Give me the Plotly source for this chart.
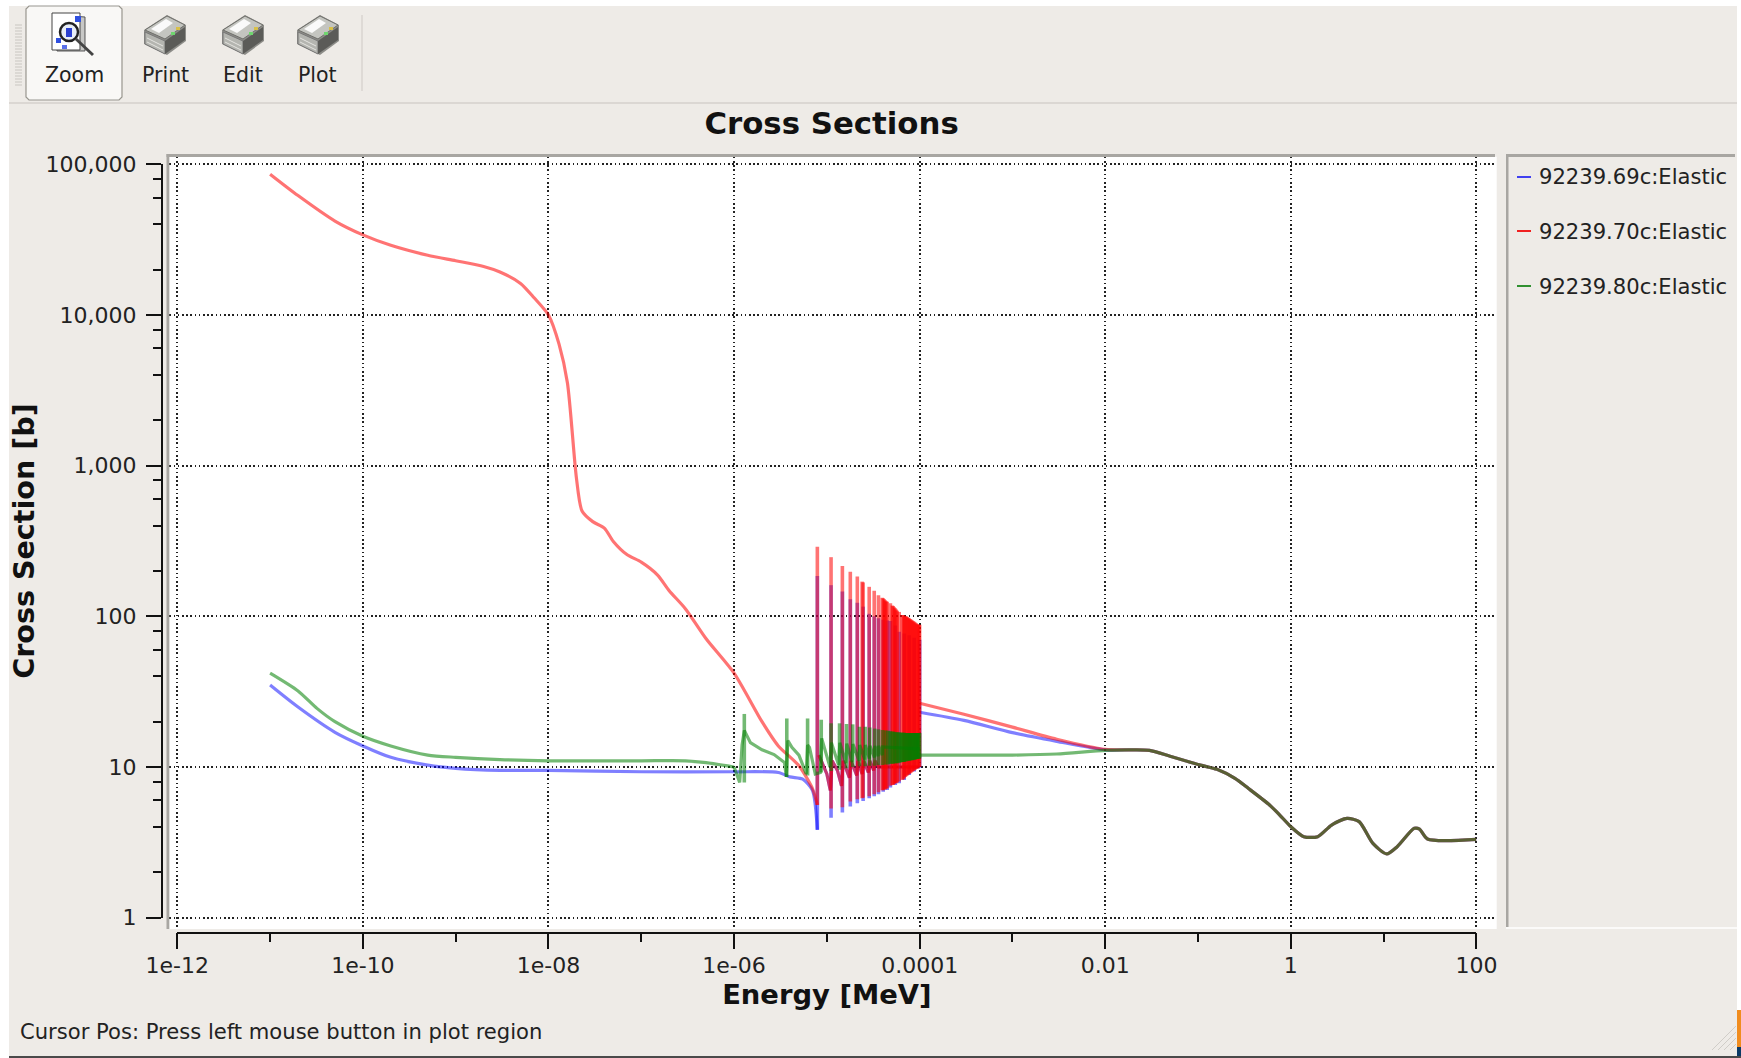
import plotly.graph_objects as go

W, H = 1741, 1058
FONT = "DejaVu Sans"
PAPER = "#eeebe7"
BORDER = "#a8a6a2"

# smooth parts of the curves (MeV, barns)
red_energy = [1e-11, 2e-11, 5e-11, 1e-10, 2e-10, 5e-10, 1e-9, 2e-9, 3e-9, 5e-9, 7e-9, 1e-8,
              1.3e-8, 1.6e-8, 2e-8, 2.3e-8, 3e-8, 4e-8, 5e-8, 7e-8, 1e-7, 1.5e-7, 2e-7, 3e-7,
              5e-7, 1e-6, 2e-6, 3e-6, 5e-6, 7e-6, 7.9e-6]
red_xs = [86000, 62000, 42000, 34000, 29000, 24900, 22900, 21000, 19300, 16200, 13000, 10000,
          6400, 3550, 830, 500, 425, 385, 314, 257, 229, 188, 148, 112,
          71, 42, 20, 13.8, 10.2, 7.2, 5.6]

blue_energy = [1e-11, 2e-11, 5e-11, 1e-10, 2e-10, 5e-10, 1e-9, 3e-9, 1e-8, 1e-7, 1e-6, 3e-6,
               4e-6, 5.5e-6, 7e-6, 7.9e-6]
blue_xs = [35, 25, 17, 13.8, 11.6, 10.3, 9.8, 9.5, 9.5, 9.3, 9.3, 9.2,
           8.6, 8.3, 7, 3.83]

# tails between the .69c/.70c resonances
base_energy = [8.2e-6, 9e-6, 10e-6, 10.9e-6, 11.4e-6, 13e-6, 14.4e-6, 15e-6, 17.5e-6, 18.2e-6,
               21e-6, 21.6e-6, 24e-6, 25e-6, 28e-6, 29e-6, 32e-6, 33e-6, 36e-6, 100e-6]
base_xs = [12, 10.5, 9, 7, 11, 9.5, 7.5, 11, 8.5, 11,
           8.8, 11, 9, 11, 9.2, 11, 9.5, 11, 10, 10]

green_low_energy = [1e-11, 2e-11, 3.2e-11, 5e-11, 1e-10, 2e-10, 5e-10, 1e-9, 3e-9, 1e-8, 1e-7, 3e-7,
                    5e-7, 1e-6]
green_low_xs = [42, 32, 24.5, 20, 16, 13.8, 12, 11.6, 11.2, 11, 11, 11,
                10.7, 10]
# sawtooth after each green resonance
green_mid_energy = [1e-6, 1.15e-6, 1.22e-6, 1.29e-6, 1.5e-6, 2e-6, 2.7e-6, 3.5e-6, 3.65e-6,
                    3.8e-6, 4.2e-6, 5e-6, 6e-6, 6.2e-6, 6.5e-6, 7.5e-6, 8.5e-6,
                    8.8e-6, 10.8e-6, 11.2e-6, 13.4e-6, 13.8e-6, 16e-6, 16.4e-6, 18.7e-6, 19.1e-6,
                    22.2e-6, 22.6e-6, 25.6e-6, 26e-6, 28.7e-6, 29.1e-6, 32.5e-6, 32.9e-6, 35.7e-6,
                    36.1e-6, 39.5e-6, 39.9e-6, 100e-6]
green_mid_xs = [10, 7.9, 14, 17.5, 14.5, 13, 12.1, 10.7, 8.6,
                15, 13.5, 12, 9, 14, 13.5, 9, 9.2,
                15.5, 10, 14.5, 10.3, 14.5, 10.6, 14.3, 10.8, 14.2,
                11, 14, 11.2, 14, 11.4, 13.8, 11.6, 13.8, 11.8,
                13.8, 12, 13.6, 13.2]

# above the resonance region
high_energy = [1e-4, 3e-4, 1e-3, 3e-3, 0.01]
high_red_xs = [26.5, 22.4, 18.4, 15.3, 13.1]
high_blue_xs = [23.1, 20.4, 16.9, 14.8, 13]
high_green_energy = [1e-4, 1e-3, 3e-3, 0.01]
high_green_xs = [12, 12, 12.2, 12.9]

# all three libraries agree above 10 keV
common_energy = [0.01, 0.02, 0.03, 0.05, 0.106, 0.16, 0.25, 0.35, 0.59, 0.76, 1, 1.38, 1.95, 2.75,
                 4.04, 5.45, 7.67, 10.8, 14, 21.4, 24.4, 29.7, 100]
common_xs = [13, 13, 12.9, 11.8, 10.3, 9.65, 8.4, 7.2, 5.6, 4.8, 4.02, 3.45, 3.45, 4.12,
             4.56, 4.34, 3.11, 2.65, 2.96, 3.92, 3.87, 3.33, 3.31]

# resonance spikes of the .70c evaluation
spike_energy = [7.9e-6, 11.1e-6, 14.7e-6, 17.9e-6, 21.3e-6, 24e-6, 24.6e-6, 28.6e-6, 32.4e-6, 36e-6,
                39.5e-6, 40.5e-6, 41.5e-6, 42.6e-6, 43.6e-6, 44.7e-6, 48.4e-6,
                50.7e-6, 51.9e-6, 53.2e-6, 54.6e-6, 55.9e-6, 57.3e-6, 60.2e-6,
                64.9e-6, 66.5e-6, 68.2e-6, 69.9e-6, 71.7e-6, 73.5e-6, 75.3e-6, 77.2e-6, 79.1e-6,
                81.1e-6, 83.1e-6, 85.2e-6, 87.4e-6, 89.5e-6, 91.8e-6, 94.1e-6, 96.4e-6, 98.9e-6, 100e-6]
red_peak = [290, 247, 216, 198, 184, 170, 168, 157, 148, 138,
            133, 132, 130, 128, 126, 125, 122,
            118, 117, 115, 113, 111, 109, 107,
            102, 102, 101, 100, 100, 99, 98, 97, 96,
            95, 94, 93, 92, 91, 90, 89, 88, 88, 88]
red_dip = [5.6, 5.3, 5.4, 5.9, 6.1, 6.2, 6.25, 6.4, 6.6, 6.8,
           7, 7, 7.1, 7.1, 7.2, 7.2, 7.5,
           7.6, 7.6, 7.7, 7.8, 7.8, 7.9, 8,
           8.2, 8.3, 8.4, 8.6, 8.7, 8.8, 8.9, 9, 9.1,
           9.2, 9.3, 9.4, 9.5, 9.6, 9.7, 9.8, 9.9, 10, 10]

# resonance spikes of the .69c evaluation that are not buried under solid red
blue_spike_energy = [7.9e-6, 11.1e-6, 14.7e-6, 17.9e-6, 21.3e-6, 24.6e-6, 28.6e-6, 32.4e-6, 36e-6,
                     40.5e-6, 44.7e-6, 48.4e-6, 54.6e-6, 60.2e-6, 68.2e-6, 77.2e-6, 87.4e-6, 100e-6]
blue_peak = [185, 161, 146, 130, 123, 116, 104, 100, 97,
             95, 94, 93, 87, 79, 77, 75, 72, 70]
blue_dip = [3.83, 4.6, 5, 5.46, 5.75, 5.95, 6.2, 6.4, 6.6,
            6.85, 7.05, 7.3, 7.6, 7.8, 8.2, 8.85, 9.35, 9.9]

# resonance spikes of the .80c evaluation
green_spike_energy = [1.29e-6, 3.7e-6, 6.2e-6, 8.7e-6, 11.1e-6, 13.7e-6, 16.3e-6, 19e-6, 22.5e-6, 25.9e-6,
                      29e-6, 32.8e-6, 36e-6, 39.8e-6, 43e-6, 45.8e-6, 48e-6, 50e-6, 52e-6, 54e-6,
                      56e-6, 58e-6, 60e-6, 62e-6, 64e-6, 66e-6, 68e-6, 70e-6, 72e-6, 74e-6,
                      76e-6, 78e-6, 80e-6, 82e-6, 84e-6, 86e-6, 88e-6, 90e-6, 92e-6, 94e-6,
                      96e-6, 98e-6, 100e-6]
green_peak = [22.5, 21, 21, 20.6, 19.5, 19.5, 19.3, 19.2, 18.5, 18.5,
              18.3, 18, 17.8, 17.6, 17.5, 17.4, 17.3, 17.2, 17.2, 17.1,
              17, 17, 17, 16.9, 16.9, 16.9, 16.9, 16.8, 16.8, 16.8,
              16.8, 16.8, 16.8, 16.8, 16.8, 16.8, 16.8, 16.8, 16.8, 16.8,
              16.8, 16.8, 16.8]
green_dip = [7.9, 8.6, 8.8, 9.2, 9.4, 9.6, 9.8, 10, 10.1, 10.1,
             10.2, 10.2, 10.3, 10.3, 10.4, 10.4, 10.5, 10.5, 10.5, 10.6,
             10.6, 10.6, 10.7, 10.7, 10.8, 10.8, 10.8, 10.9, 10.9, 11,
             11, 11, 11.1, 11.1, 11.1, 11.2, 11.2, 11.2, 11.3, 11.3,
             11.3, 11.4, 11.4]

RED = "rgba(255,0,0,0.55)"
BLUE = "rgba(0,0,255,0.5)"
GREEN = "rgba(0,128,0,0.55)"
LW = 3.2
SPIKE_LW = 3.6


def spike(e, lo, hi, color):
    return go.Scatter(x=[e, e], y=[lo, hi], mode="lines", xaxis="x2", yaxis="y2",
                      line=dict(color=color, width=SPIKE_LW), showlegend=False, hoverinfo="skip")


def curve(xs, ys, color, shape="spline"):
    return go.Scatter(x=xs, y=ys, mode="lines", xaxis="x2", yaxis="y2",
                      line=dict(color=color, width=LW, shape=shape, smoothing=0.7),
                      showlegend=False, hoverinfo="skip")


fig = go.Figure()
# empty trace so the grid axes get drawn
fig.add_trace(go.Scatter(x=[None], y=[None], showlegend=False, hoverinfo="skip"))

fig.add_trace(curve(blue_energy, blue_xs, BLUE))
fig.add_trace(curve(base_energy, base_xs, BLUE, "linear"))
for e, lo, hi in zip(blue_spike_energy, blue_dip, blue_peak):
    fig.add_trace(spike(e, lo, hi, BLUE))
fig.add_trace(curve(high_energy + common_energy[1:], high_blue_xs + common_xs[1:], BLUE))

fig.add_trace(curve(red_energy, red_xs, RED))
fig.add_trace(curve(base_energy, base_xs, RED, "linear"))
for e, lo, hi in zip(spike_energy, red_dip, red_peak):
    fig.add_trace(spike(e, lo, hi, RED))
fig.add_trace(curve(high_energy + common_energy[1:], high_red_xs + common_xs[1:], RED))

fig.add_trace(curve(green_low_energy, green_low_xs, GREEN))
fig.add_trace(curve(green_mid_energy, green_mid_xs, GREEN, "linear"))
for e, lo, hi in zip(green_spike_energy, green_dip, green_peak):
    fig.add_trace(spike(e, lo, hi, GREEN))
fig.add_trace(curve(high_green_energy + common_energy[1:], high_green_xs + common_xs[1:], GREEN))

x_major = [1e-12, 1e-10, 1e-8, 1e-6, 1e-4, 0.01, 1, 100]
x_labels = ["1e-12", "1e-10", "1e-08", "1e-06", "0.0001", "0.01", "1", "100"]
x_minor = [1e-11, 1e-9, 1e-7, 1e-5, 1e-3, 0.1, 10]
y_major = [1, 10, 100, 1000, 10000, 100000]
y_labels = ["1", "10", "100", "1,000", "10,000", "100,000"]
y_minor = [2, 4, 6, 8, 20, 40, 60, 80, 200, 400, 600, 800, 2000, 4000, 6000, 8000,
           20000, 40000, 60000, 80000]


def px(x):
    return x / W


def py(y):
    return 1 - y / H


def rect(x0, y0, x1, y1, fill, line=None, lw=0, layer="above"):
    return dict(type="rect", xref="paper", yref="paper", x0=px(x0), x1=px(x1), y0=py(y0), y1=py(y1),
                fillcolor=fill, line=dict(color=line or fill, width=lw), layer=layer)


def seg(x0, y0, x1, y1, color, lw=1):
    return dict(type="line", xref="paper", yref="paper", x0=px(x0), x1=px(x1), y0=py(y0), y1=py(y1),
                line=dict(color=color, width=lw), layer="above")


def poly(pts, fill, line=None, lw=0):
    d = "M " + " L ".join(f"{px(a):.5f},{py(b):.5f}" for a, b in pts) + " Z"
    return dict(type="path", xref="paper", yref="paper", path=d, fillcolor=fill,
                line=dict(color=line or fill, width=lw), layer="above")


def printer(cx):
    # little printer icon, 42 px wide
    return [
        poly([(cx - 21, 30), (cx + 2, 15), (cx + 21, 25), (cx + 21, 41), (cx + 2, 55), (cx - 21, 44)], "#8c8c88"),
        poly([(cx - 20, 30), (cx + 2, 16), (cx + 20, 25), (cx, 39)], "#c4c5c0", "#6f6f6b", 1),
        poly([(cx - 14, 29), (cx + 1, 19), (cx + 8, 23), (cx - 6, 33)], "#fafafa"),
        poly([(cx - 20, 32), (cx, 41), (cx, 54), (cx - 20, 44)], "#b4b5b0", "#777", 1),
        poly([(cx, 41), (cx + 20, 27), (cx + 20, 40), (cx, 54)], "#5b5b58"),
        seg(cx - 18, 38, cx - 2, 46, "#e4e4e0", 1),
        seg(cx - 18, 42, cx - 2, 50, "#e4e4e0", 1),
        rect(cx + 11, 27, cx + 15, 30, "#d8c048"),
        rect(cx + 6, 32, cx + 10, 35, "#6fd66f"),
    ]


shapes = [
    # white canvas, kept as a shape so the inner subplot does not paint over the grid
    rect(169.3, 156.7, 1496.7, 929, "#ffffff", layer="below"),
    # window edges
    rect(0, 0, W, 6, "#ffffff"),
    rect(0, 0, 9, H, "#ffffff"),
    rect(1737, 0, W, 1010, "#ffffff"),
    rect(1737, 1010, W, 1047, "#f08c1e"),
    rect(1737, 1047, W, 1056, "#0a3a66"),
    rect(9, 1056, W, H, "#4a4a4a"),
    # toolbar
    seg(9, 103, 1737, 103, "#d4d1cc", 1.5),
    seg(362, 15, 362, 91, "#d8d5d0", 1.5),
    poly([(29, 6), (119, 6), (122, 9), (122, 97), (119, 100), (29, 100), (26, 97), (26, 9)],
         "#f9f8f6", "#98968f", 1.2),
    # frame of the plot and legend panels
    rect(166.5, 154, 1495, 157, BORDER),
    rect(166.5, 154, 169.3, 929, BORDER),
    rect(1506, 154, 1735, 157, BORDER),
    rect(1506, 154, 1508.5, 927, BORDER),
    seg(1506, 928, 1737, 928, "#ffffff", 1.5),
    # zoom icon
    poly([(57, 15), (85, 17), (85, 51), (57, 51)], "#c8c8c6", "#555", 1),
    poly([(52, 13), (80, 13), (80, 50), (52, 50)], "#ffffff", "#444", 1),
    dict(type="circle", xref="paper", yref="paper", x0=px(60), x1=px(78), y0=py(41), y1=py(23),
         fillcolor="#e8eef8", line=dict(color="#222", width=2.5), layer="above"),
    seg(76, 39, 93, 55, "#444", 3),
    rect(66, 28, 72, 37, "#2a3fd0"),
    rect(75, 16, 81, 22, "#3050e0"),
    rect(56, 38, 61, 43, "#3050e0"),
    rect(62, 45, 67, 49, "#5a70e8"),
    # size grip
    seg(1712, 1050, 1736, 1026, "#d0cdc8", 1),
    seg(1718, 1050, 1736, 1032, "#d0cdc8", 1),
    seg(1724, 1050, 1736, 1038, "#d0cdc8", 1),
    seg(1730, 1050, 1736, 1044, "#d0cdc8", 1),
    # legend keys
    seg(1517, 177, 1531, 177, "#4040f0", 2),
    seg(1517, 231, 1531, 231, "#f02020", 2),
    seg(1517, 286, 1531, 286, "#309030", 2),
]
# toolbar handle
for gy in range(25, 86, 3):
    shapes.append(seg(15, gy, 22, gy, "#c9c6c1", 1))
for cx in (165, 243, 318):
    shapes += printer(cx)


def label(x, y, text, size=20.5, anchor="center"):
    return dict(x=px(x), y=py(y), xref="paper", yref="paper", text=text, showarrow=False,
                xanchor=anchor, yanchor="middle", font=dict(family=FONT, size=size, color="#222222"))


annotations = [
    label(74, 75, "Zoom"),
    label(165, 75, "Print"),
    label(243, 75, "Edit"),
    label(317, 75, "Plot"),
    label(1537, 177, "92239.69c:Elastic", size=21.1, anchor="left"),
    label(1537, 231.5, "92239.70c:Elastic", size=21.1, anchor="left"),
    label(1537, 286, "92239.80c:Elastic", size=21.1, anchor="left"),
    label(17.5, 1031, "Cursor Pos: Press left mouse button in plot region", size=21.1, anchor="left"),
]

grid = dict(showgrid=True, gridcolor="#222222", griddash="1.6px,2.6px", gridwidth=1.6, automargin=False,
            showline=False, zeroline=False, ticks="", showticklabels=False)
axis_font = dict(family=FONT, size=22, color="#222222")

fig.update_layout(
    template="none",
    width=W, height=H, margin=dict(l=0, r=0, t=0, b=0, pad=0),
    paper_bgcolor=PAPER, plot_bgcolor="rgba(0,0,0,0)", showlegend=False,
    title=dict(text="Cross Sections", x=px(831.6), y=py(123), xanchor="center", yanchor="middle",
               xref="paper", yref="paper", font=dict(family=FONT, size=30.8, color="#111111", weight=700)),
    # grid axes fill the white canvas
    xaxis=dict(type="log", domain=[px(169.3), px(1496.7)], range=[-12.086, 2.219], anchor="y",
               tickmode="array", tickvals=x_major, **grid),
    yaxis=dict(type="log", domain=[py(929), py(156.7)], range=[-0.075, 5.05], anchor="x",
               tickmode="array", tickvals=y_major, **grid),
    # visible axes sit outside the canvas
    xaxis2=dict(type="log", domain=[px(177.3), px(1476.4)], range=[-12, 2], anchor="free",
                position=py(932.7), side="bottom", showgrid=False, zeroline=False, showline=True,
                automargin=False, linecolor="#111111", linewidth=1.5, ticks="outside", ticklen=15.5,
                tickwidth=1.5, tickcolor="#111111", tickmode="array", tickvals=x_major, ticktext=x_labels,
                tickfont=axis_font, ticklabelstandoff=-2,
                minor=dict(tickmode="array", tickvals=x_minor, ticks="outside", ticklen=9,
                           tickwidth=1.5, tickcolor="#111111", showgrid=False),
                title=dict(text="Energy [MeV]", font=dict(family=FONT, size=27.4, color="#111111", weight=700),
                           standoff=6)),
    yaxis2=dict(type="log", domain=[py(917.7), py(164.3)], range=[0, 5], anchor="free",
                position=px(161.7), side="left", showgrid=False, zeroline=False, showline=True,
                automargin=False, linecolor="#111111", linewidth=1.5, ticks="outside", ticklen=15,
                tickwidth=1.5, tickcolor="#111111", tickmode="array", tickvals=y_major, ticktext=y_labels,
                tickfont=axis_font, ticklabelstandoff=5,
                minor=dict(tickmode="array", tickvals=y_minor, ticks="outside", ticklen=7.5,
                           tickwidth=1.5, tickcolor="#111111", showgrid=False),
                title=dict(text="Cross Section [b]", font=dict(family=FONT, size=28.6, color="#111111", weight=700),
                           standoff=2)),
    shapes=shapes,
    annotations=annotations,
)

fig.write_html("out.html", config=dict(displayModeBar=False),
               post_script="document.body.style.margin='0';")
